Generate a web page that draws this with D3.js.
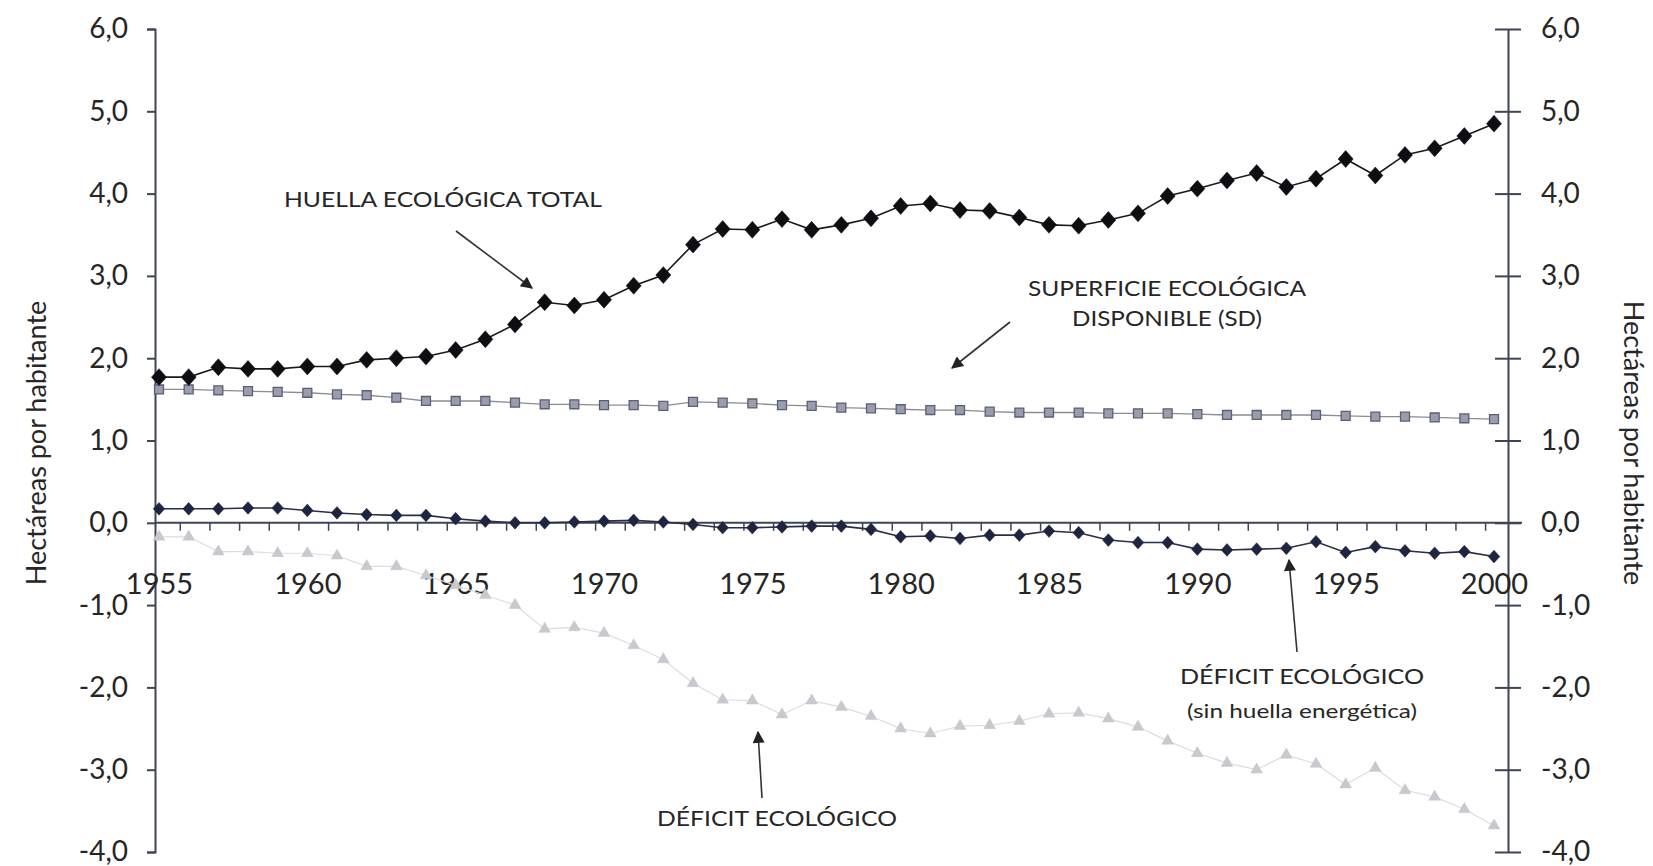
<!DOCTYPE html>
<html>
<head>
<meta charset="utf-8">
<script src="https://cdn.jsdelivr.net/npm/d3@7"></script>
<style>
  html, body { margin: 0; padding: 0; background: #fff; }
  svg { display: block; }
  text { font-family: Lato, "Open Sans", sans-serif; fill: #262626; }
</style>
</head>
<body>
<svg id="chart" width="1653" height="866"></svg>
<script>
// ---- data ----
const years = d3.range(1955, 2001);
const huellaTotal = [1.77,1.77,1.89,1.87,1.87,1.90,1.90,1.98,2.00,2.02,
  2.10,2.23,2.41,2.68,2.64,2.71,2.88,3.01,3.38,3.57,
  3.56,3.69,3.56,3.62,3.70,3.85,3.88,3.80,3.79,3.71,
  3.62,3.61,3.68,3.76,3.97,4.06,4.16,4.25,4.08,4.18,
  4.42,4.22,4.47,4.55,4.70,4.85];
const superficieDisponible = [1.62,1.62,1.61,1.60,1.59,1.58,1.56,1.55,1.52,1.48,
  1.48,1.48,1.46,1.44,1.44,1.43,1.43,1.42,1.47,1.46,
  1.45,1.43,1.42,1.40,1.39,1.38,1.37,1.37,1.35,1.34,
  1.34,1.34,1.33,1.33,1.33,1.32,1.31,1.31,1.31,1.31,
  1.30,1.29,1.29,1.28,1.27,1.26];
const deficitSinEnergia = [0.17,0.17,0.17,0.18,0.18,0.15,0.12,0.10,0.09,0.09,
  0.05,0.02,0.00,0.00,0.01,0.02,0.03,0.01,-0.02,-0.06,
  -0.06,-0.05,-0.04,-0.04,-0.08,-0.17,-0.16,-0.19,-0.15,-0.15,
  -0.10,-0.12,-0.21,-0.24,-0.24,-0.32,-0.33,-0.32,-0.31,-0.23,
  -0.36,-0.29,-0.34,-0.37,-0.35,-0.41];
const deficitEcologico = [-0.17,-0.17,-0.35,-0.35,-0.37,-0.37,-0.40,-0.53,-0.53,-0.64,
  -0.76,-0.88,-1.00,-1.29,-1.27,-1.34,-1.49,-1.66,-1.95,-2.15,
  -2.16,-2.33,-2.16,-2.24,-2.35,-2.50,-2.56,-2.47,-2.46,-2.41,
  -2.32,-2.31,-2.38,-2.48,-2.65,-2.80,-2.92,-3.00,-2.82,-2.93,
  -3.18,-2.98,-3.25,-3.33,-3.48,-3.68];
const yTicks = [6,5,4,3,2,1,0,-1,-2,-3,-4];
const xLabelYears = [1955,1960,1965,1970,1975,1980,1985,1990,1995,2000];
const axisTitle = "Hectáreas por habitante";

// ---- layout ----
const svg = d3.select("#chart");
const leftX = 155, rightX = 1508;
const x = d3.scaleLinear().domain([1955, 2000]).range([159, 1494]);
const y = d3.scaleLinear().domain([-4, 6]).range([852, 29]);
const fmt = v => d3.format(".1f")(v).replace(".", ",").replace("−", "-");
const axisColor = "#3f4556";

// left axis
const gl = svg.append("g").attr("transform", `translate(${leftX},0)`)
  .call(d3.axisLeft(y).tickValues(yTicks).tickFormat(fmt).tickSizeInner(8).tickSizeOuter(8).tickPadding(19));
gl.select(".domain").attr("stroke", axisColor).attr("stroke-width", 2);
gl.selectAll(".tick line").attr("stroke", axisColor).attr("stroke-width", 2);
gl.selectAll(".tick text").attr("font-size", 28).style("font-family", "Lato, sans-serif").attr("fill", "#222");

// right axis (ticks crossing)
const gr = svg.append("g").attr("transform", `translate(${rightX},0)`)
  .call(d3.axisRight(y).tickValues(yTicks).tickFormat(fmt).tickSizeInner(13).tickSizeOuter(0).tickPadding(20));
gr.select(".domain").attr("stroke", axisColor).attr("stroke-width", 2);
gr.selectAll(".tick line").attr("x1", -13).attr("stroke", axisColor).attr("stroke-width", 2);
gr.selectAll(".tick text").attr("font-size", 28).style("font-family", "Lato, sans-serif").attr("fill", "#222");

// x axis along zero
const y0 = y(0);
svg.append("line").attr("x1", leftX).attr("x2", rightX + 14)
  .attr("y1", y0).attr("y2", y0).attr("stroke", axisColor).attr("stroke-width", 2);
const gxMinor = svg.append("g").attr("transform", `translate(0,${y0})`)
  .call(d3.axisBottom(x).tickValues(years.slice(1).map(v => v - 0.3)).tickFormat("").tickSize(8));
gxMinor.select(".domain").remove();
gxMinor.selectAll(".tick line").attr("stroke", axisColor).attr("stroke-width", 1.5);

const gx = svg.append("g").attr("transform", `translate(0,${y0})`)
  .call(d3.axisBottom(x).tickValues(xLabelYears).tickFormat(d3.format("d")).tickSize(0).tickPadding(71));
gx.select(".domain").remove();
gx.selectAll(".tick text").attr("font-size", 29).style("font-family", "Lato, sans-serif").attr("fill", "#222").attr("dy", "0");

// axis titles
svg.append("text").attr("transform", `translate(46,443) rotate(-90)`)
  .attr("text-anchor", "middle").attr("font-size", 27).attr("fill", "#333").text(axisTitle);
svg.append("text").attr("transform", `translate(1624,443) rotate(90)`)
  .attr("text-anchor", "middle").attr("font-size", 27).attr("fill", "#333").text(axisTitle);

// ---- series ----
function series(values, opt) {
  const data = years.map((yr, i) => ({ yr, v: values[i] }));
  svg.append("path").datum(data)
    .attr("fill", "none").attr("stroke", opt.line).attr("stroke-width", opt.lw)
    .attr("d", d3.line().x(d => x(d.yr)).y(d => y(d.v)));
  svg.append("g").selectAll("path").data(data).join("path")
    .attr("transform", d => `translate(${x(d.yr)},${y(d.v)})${opt.sy ? " scale(1," + opt.sy + ")" : ""}`)
    .attr("d", d3.symbol().type(opt.type).size(opt.size))
    .attr("fill", opt.fill).attr("stroke", opt.stroke).attr("stroke-width", opt.sw);
}

series(deficitEcologico, { line: "#dcdde0", lw: 1.2, type: d3.symbolTriangle, size: 60, fill: "#c6c9ce", stroke: "#c6c9ce", sw: 0.5 });
series(superficieDisponible, { line: "#8a8d96", lw: 1.3, type: d3.symbolSquare, size: 80, fill: "#9a9eac", stroke: "#5a5f74", sw: 1.3 });
series(deficitSinEnergia, { line: "#2a2f45", lw: 1.6, type: d3.symbolDiamond2, size: 85, sy: 1.1, fill: "#1e2540", stroke: "#1e2540", sw: 0.5 });
series(huellaTotal, { line: "#1a1a1a", lw: 1.6, type: d3.symbolDiamond2, size: 145, sy: 1.12, fill: "#0d0d12", stroke: "#0d0d12", sw: 0.5 });

// ---- annotations ----
const defs = svg.append("defs");
defs.append("marker").attr("id", "arrow").attr("viewBox", "0 0 10 10")
  .attr("refX", 9).attr("refY", 5).attr("markerWidth", 14).attr("markerHeight", 12)
  .attr("markerUnits", "userSpaceOnUse").attr("orient", "auto")
  .append("path").attr("d", "M0,0 L10,5 L0,10 Z").attr("fill", "#222");

function arrow(x1, y1, x2, y2) {
  svg.append("line").attr("x1", x1).attr("y1", y1).attr("x2", x2).attr("y2", y2)
    .attr("stroke", "#333").attr("stroke-width", 1.6).attr("marker-end", "url(#arrow)");
}
function label(txt, xx, yy, size, width) {
  svg.append("text").attr("x", xx).attr("y", yy).attr("font-size", size)
    .attr("text-anchor", "middle").attr("fill", "#2a2a2a")
    .attr("textLength", width).attr("lengthAdjust", "spacingAndGlyphs").text(txt);
}

label("HUELLA ECOLÓGICA TOTAL", 443, 207, 22, 318);
arrow(456, 231, 532, 288);

label("SUPERFICIE ECOLÓGICA", 1167, 296, 22, 278);
label("DISPONIBLE (SD)", 1167, 326, 22, 190);
arrow(1010, 322, 952, 368);

label("DÉFICIT ECOLÓGICO", 1302, 684, 22, 244);
label("(sin huella energética)", 1302, 718, 19, 230);
arrow(1297, 652, 1289, 560);

label("DÉFICIT ECOLÓGICO", 777, 826, 22, 240);
arrow(762, 798, 758, 732);
</script>
</body>
</html>
